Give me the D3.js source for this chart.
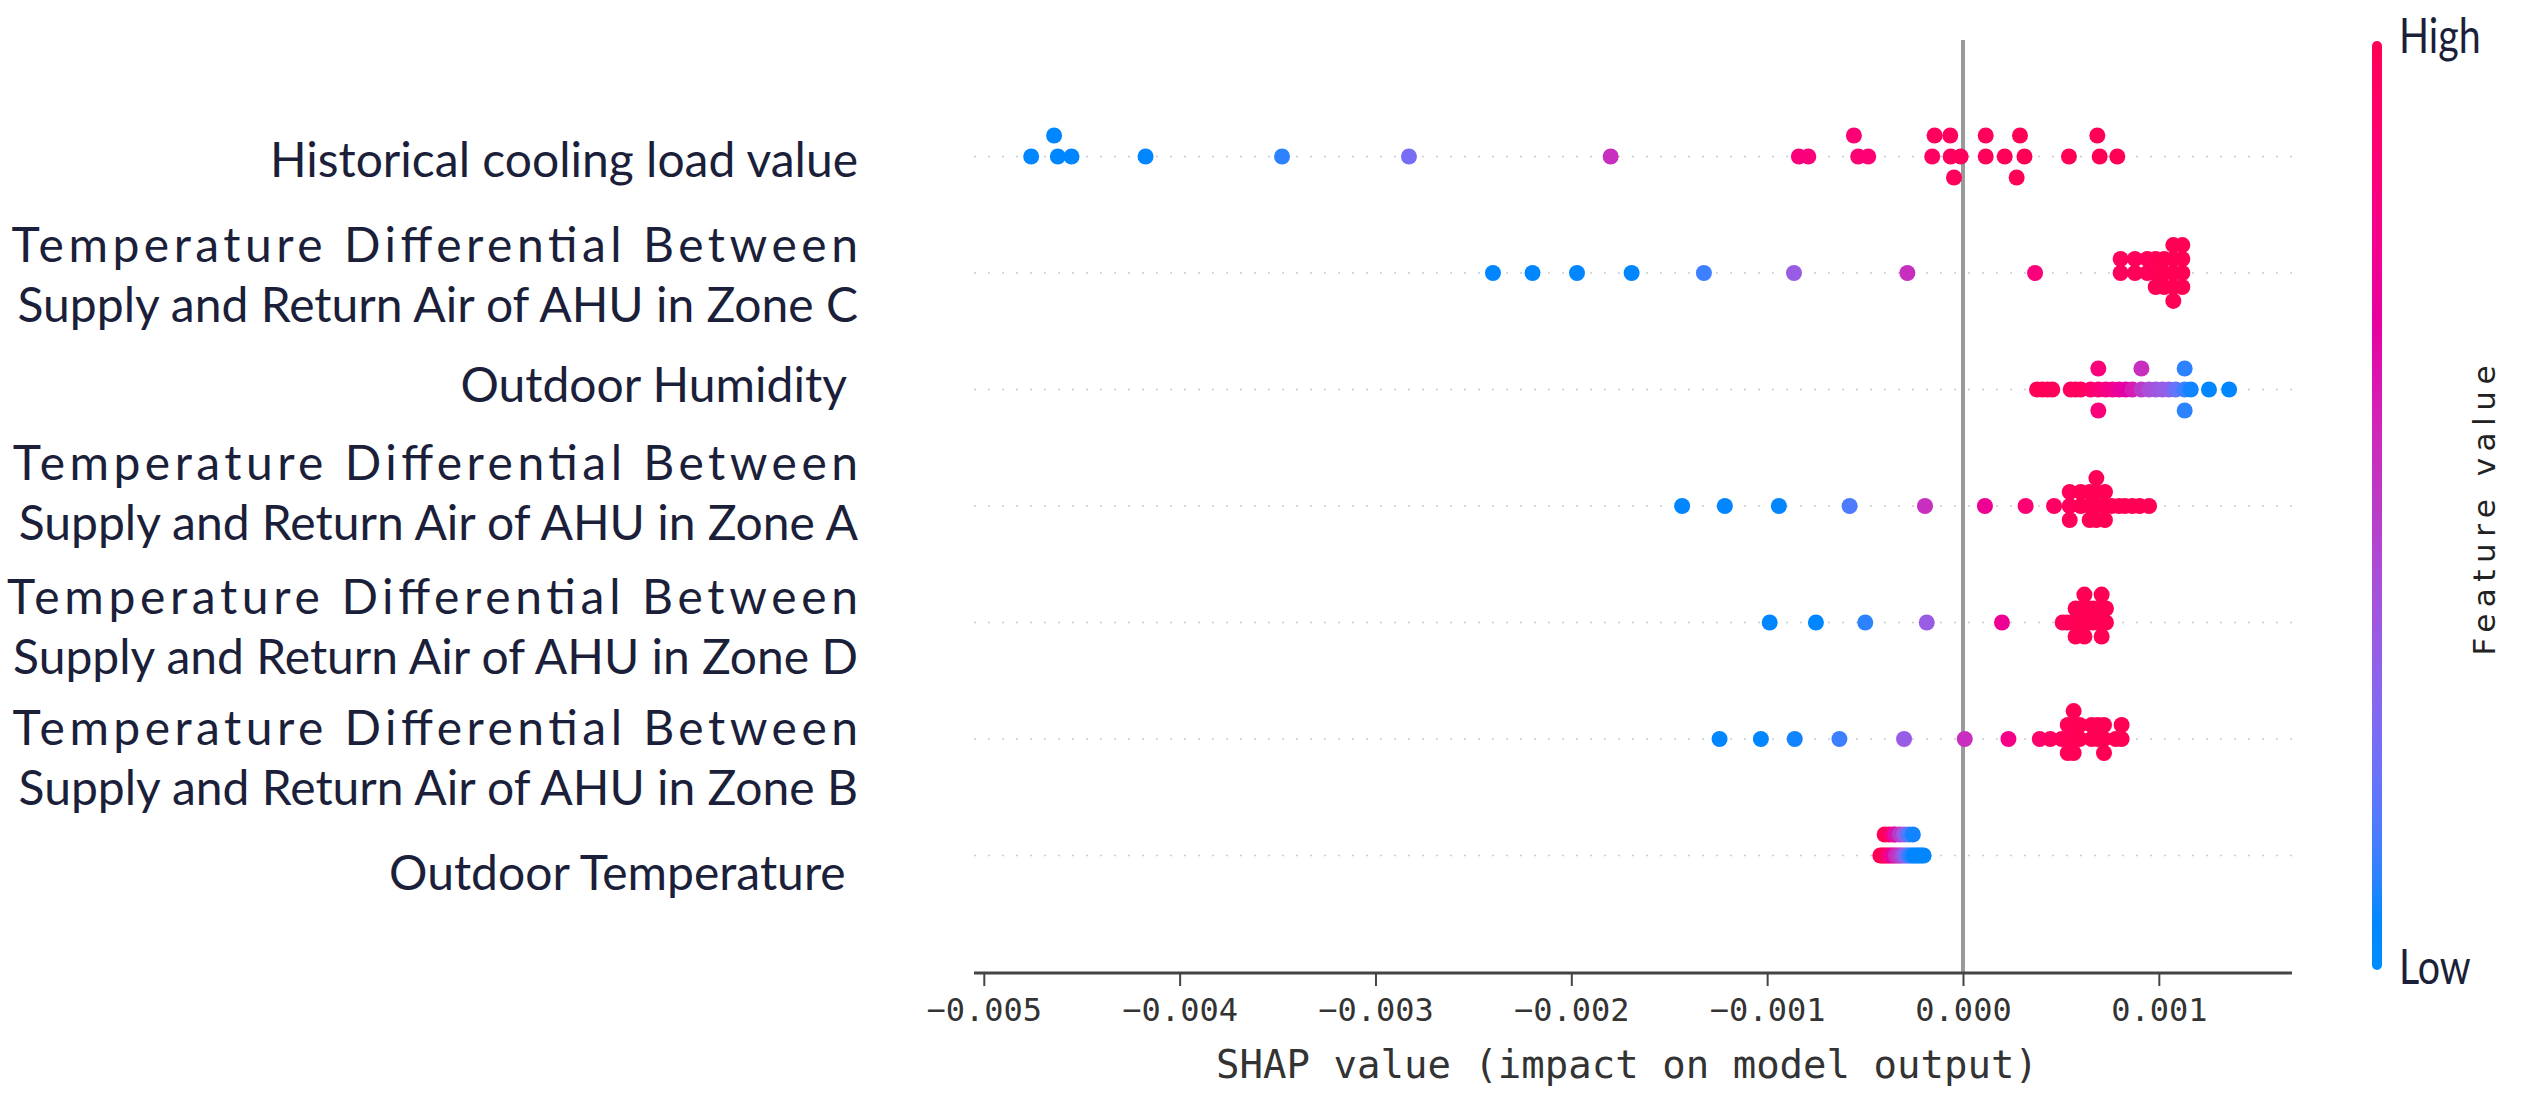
<!DOCTYPE html>
<html>
<head>
<meta charset="utf-8">
<script src="https://cdn.jsdelivr.net/npm/d3@7"></script>
<style>
  body { margin: 0; background: #fff; }
  svg { display: block; }
  .lab { font-family: Lato, "Open Sans", sans-serif; font-size: 48px; fill: #1c1f3a; white-space: pre; }
  .mono { font-family: "DejaVu Sans Mono", "Liberation Mono", monospace; fill: #333; }
</style>
</head>
<body>
<div id="chart"></div>
<script>
// Feature names, top row first (two-line names are split by hand like the original)
const features = [
  ["Historical cooling load value"],
  ["Temperature Differential Between", "Supply and Return Air of AHU in Zone C"],
  ["Outdoor Humidity "],
  ["Temperature Differential Between", "Supply and Return Air of AHU in Zone A"],
  ["Temperature Differential Between", "Supply and Return Air of AHU in Zone D"],
  ["Temperature Differential Between", "Supply and Return Air of AHU in Zone B"],
  ["Outdoor Temperature "]
];

// samples: [SHAP value, normalised feature value (0 = low, 1 = high)]
const histLoad = [
  [-0.004758, 0.05], [-0.004622, 0.05], [-0.004641, 0.05], [-0.004552, 0.05],
  [-0.004174, 0.06], [-0.003477, 0.10], [-0.002829, 0.25], [-0.001799, 0.55],
  [-0.000838, 0.85], [-0.000790, 0.85], [-0.000535, 0.88], [-0.000557, 0.88],
  [-0.000484, 0.88], [-0.000157, 0.95], [-0.000145, 0.96], [-0.000063, 0.97],
  [-0.000065, 0.97], [-0.000046, 0.97], [-0.000012, 0.98], [0.000116, 0.98],
  [0.000116, 0.98], [0.000213, 0.98], [0.000314, 0.99], [0.000291, 0.99],
  [0.000274, 0.99], [0.000541, 1], [0.000698, 1], [0.000686, 1], [0.000788, 1]
];
const zoneC = [
  [-0.002400, 0.05], [-0.002198, 0.05], [-0.001971, 0.05], [-0.001692, 0.06],
  [-0.001323, 0.12], [-0.000863, 0.35], [-0.000284, 0.55], [0.000368, 0.85],
  [0.000805, 0.97], [0.000805, 0.97], [0.000878, 0.98], [0.000878, 0.98],
  [0.000941, 0.98], [0.000941, 0.98], [0.000984, 0.99], [0.000984, 0.99],
  [0.000984, 0.99], [0.001027, 1], [0.001027, 1], [0.001027, 1],
  [0.001074, 1], [0.001074, 1], [0.001074, 1], [0.001074, 1], [0.001074, 1],
  [0.001120, 1], [0.001120, 1], [0.001120, 1], [0.001120, 1]
];
const humidity = [
  [0.000378, 1], [0.000405, 1], [0.000432, 1], [0.000456, 0.98],
  [0.000550, 0.97], [0.000575, 0.97], [0.000601, 0.96], [0.000652, 0.92],
  [0.000691, 0.88], [0.000691, 0.85], [0.000691, 0.85], [0.000729, 0.82],
  [0.000763, 0.78], [0.000797, 0.72], [0.000831, 0.68], [0.000865, 0.62],
  [0.000911, 0.50], [0.000911, 0.55], [0.000950, 0.42], [0.000984, 0.38],
  [0.001018, 0.35], [0.001052, 0.32], [0.001086, 0.20], [0.001132, 0.12],
  [0.001132, 0.10], [0.001132, 0.10], [0.001163, 0.08], [0.001256, 0.06],
  [0.001359, 0.05]
];
const zoneA = [
  [-0.001434, 0.05], [-0.001216, 0.05], [-0.000940, 0.06], [-0.000579, 0.15],
  [-0.000194, 0.55], [0.000112, 0.75], [0.000320, 0.88], [0.000465, 0.95],
  [0.000545, 0.98], [0.000545, 0.98], [0.000545, 0.98], [0.000601, 0.99],
  [0.000601, 0.99], [0.000647, 1], [0.000647, 1], [0.000647, 1],
  [0.000681, 1], [0.000681, 1], [0.000681, 1], [0.000681, 1],
  [0.000725, 1], [0.000725, 1], [0.000725, 1], [0.000759, 1],
  [0.000797, 1], [0.000827, 1], [0.000865, 1], [0.000902, 1], [0.000950, 1]
];
const zoneD = [
  [-0.000987, 0.05], [-0.000751, 0.06], [-0.000499, 0.10], [-0.000185, 0.35],
  [0.000199, 0.75], [0.000509, 0.97], [0.000531, 0.98], [0.000553, 0.98],
  [0.000575, 0.99], [0.000575, 0.99], [0.000575, 0.99], [0.000598, 1],
  [0.000598, 1], [0.000620, 1], [0.000620, 1], [0.000620, 1], [0.000620, 1],
  [0.000642, 1], [0.000642, 1], [0.000664, 1], [0.000664, 1],
  [0.000686, 1], [0.000686, 1], [0.000708, 1], [0.000708, 1],
  [0.000708, 1], [0.000708, 1], [0.000730, 1], [0.000730, 1]
];
const zoneB = [
  [-0.001243, 0.05], [-0.001032, 0.06], [-0.000859, 0.08], [-0.000631, 0.12],
  [-0.000301, 0.35], [0.000009, 0.55], [0.000232, 0.80], [0.000392, 0.92],
  [0.000446, 0.95], [0.000504, 0.97], [0.000535, 0.98], [0.000535, 0.98],
  [0.000535, 0.98], [0.000565, 1], [0.000565, 1], [0.000565, 1], [0.000565, 1],
  [0.000596, 1], [0.000596, 1], [0.000657, 1], [0.000657, 1],
  [0.000688, 1], [0.000688, 1], [0.000720, 1], [0.000720, 1], [0.000720, 1],
  [0.000780, 1], [0.000810, 1], [0.000810, 1]
];
const outdoorTemp = [
  [-0.000422, 1], [-0.000411, 1], [-0.000400, 0.98], [-0.000389, 0.95],
  [-0.000378, 0.88], [-0.000367, 0.80], [-0.000356, 0.70], [-0.000345, 0.60],
  [-0.000334, 0.55], [-0.000323, 0.50], [-0.000312, 0.45], [-0.000301, 0.35],
  [-0.000289, 0.25], [-0.000278, 0.15], [-0.000267, 0.10], [-0.000256, 0.08],
  [-0.000245, 0.07], [-0.000234, 0.06], [-0.000223, 0.05], [-0.000212, 0.05],
  [-0.000201, 0.05],
  [-0.000400, 1], [-0.000378, 0.95], [-0.000356, 0.80], [-0.000345, 0.65],
  [-0.000323, 0.50], [-0.000301, 0.35], [-0.000278, 0.15], [-0.000256, 0.08]
];
const samples = [histLoad, zoneC, humidity, zoneA, zoneD, zoneB, outdoorTemp];

const xTicks = [-0.005, -0.004, -0.003, -0.002, -0.001, 0, 0.001];
const xDomain = [-0.00505, 0.00168];

const W = 2535, H = 1113;
const plotLeft = 974, plotRight = 2292, plotTop = 40, plotBottom = 972;
const labelX = 858;
const labelNudge = [4, 2, -4, -13, 5, 19, 18];
const nRows = features.length;

const svg = d3.select("#chart").append("svg")
  .attr("width", W)
  .attr("height", H);

const x = d3.scaleLinear().domain(xDomain).range([plotLeft, plotRight]);
const y = d3.scaleLinear().domain([-1, nRows]).range([plotBottom, plotTop]);

// shap's red_blue map, built in LCh like the python version (mid lightness lifted a bit)
function redBlue(t) {
  t = Math.max(0, Math.min(1, t));
  const h = 266.93 + t * (380.32 - 266.93);
  const c = 70 + t * 20;
  const lMid = 49;
  const l = t < 0.5 ? 56 + (lMid - 56) * t * 2 : lMid + (55 - lMid) * (t - 0.5) * 2;
  return d3.hcl(h, c, l).formatHex();
}

// beeswarm offsets, same binning as shap.summary_plot
function swarm(points) {
  const vals = points.map(p => p[0]);
  const lo = d3.min(vals), hi = d3.max(vals);
  const nbins = 100;
  const quant = vals.map(v => Math.round(nbins * (v - lo) / (hi - lo + 1e-8)));
  const order = d3.range(vals.length).sort((a, b) => quant[a] - quant[b] || a - b);
  const ys = new Array(vals.length).fill(0);
  let layer = 0, last = -1;
  order.forEach(i => {
    if (quant[i] !== last) layer = 0;
    ys[i] = Math.ceil(layer / 2) * ((layer % 2) * 2 - 1);
    layer++;
    last = quant[i];
  });
  const k = 0.9 * 0.4 / (d3.max(ys) + 1);
  return ys.map(v => v * k);
}

// dotted row guides
svg.append("g").selectAll("line")
  .data(d3.range(nRows))
  .join("line")
  .attr("x1", plotLeft).attr("x2", plotRight)
  .attr("y1", i => y(nRows - 1 - i)).attr("y2", i => y(nRows - 1 - i))
  .attr("stroke", "#cccccc")
  .attr("stroke-width", 1.5)
  .attr("stroke-dasharray", "2 12");

// zero line
svg.append("line")
  .attr("x1", x(0)).attr("x2", x(0))
  .attr("y1", plotTop).attr("y2", plotBottom)
  .attr("stroke", "#9a9a9a")
  .attr("stroke-width", 4);

// points
samples.forEach((pts, i) => {
  const offs = swarm(pts);
  const row = nRows - 1 - i;
  svg.append("g").selectAll("circle")
    .data(pts)
    .join("circle")
    .attr("cx", d => x(d[0]))
    .attr("cy", (d, j) => y(row + offs[j]))
    .attr("r", 8)
    .attr("fill", d => redBlue(d[1]));
});

// x axis
const fmt = d3.format(".3f");
const xAxis = svg.append("g")
  .attr("transform", `translate(0,${plotBottom + 1})`)
  .call(d3.axisBottom(x).tickValues(xTicks).tickFormat(fmt).tickSize(13).tickPadding(12));
xAxis.select(".domain")
  .attr("d", `M${plotLeft},0H${plotRight}`)
  .attr("stroke", "#444")
  .attr("stroke-width", 3);
xAxis.selectAll(".tick line").attr("stroke", "#444").attr("stroke-width", 2);
xAxis.selectAll(".tick text")
  .attr("class", "mono")
  .attr("font-size", 32)
  .attr("fill", "#333");

svg.append("text")
  .attr("class", "mono")
  .attr("x", (plotLeft + plotRight) / 2 - 6)
  .attr("y", 1078)
  .attr("text-anchor", "middle")
  .attr("font-size", 39)
  .attr("fill", "#222")
  .text("SHAP value (impact on model output)");

// feature labels
features.forEach((lines, i) => {
  const cy = y(nRows - 1 - i) + labelNudge[i];
  const g = svg.append("g");
  if (lines.length === 1) {
    g.append("text").attr("class", "lab")
      .attr("x", labelX).attr("y", cy + 16.5)
      .attr("text-anchor", "end")
      .text(lines[0]);
  } else {
    const t2 = g.append("text").attr("class", "lab")
      .attr("x", labelX).attr("y", cy + 46.5)
      .attr("text-anchor", "end")
      .text(lines[1]);
    const w2 = t2.node().getComputedTextLength();
    g.append("text").attr("class", "lab")
      .attr("x", labelX).attr("y", cy - 13.5)
      .attr("text-anchor", "end")
      .attr("textLength", w2 + 6)
      .attr("lengthAdjust", "spacing")
      .text(lines[0]);
  }
});

// colour bar
const defs = svg.append("defs");
const grad = defs.append("linearGradient")
  .attr("id", "cbar")
  .attr("x1", 0).attr("y1", 1).attr("x2", 0).attr("y2", 0);
grad.selectAll("stop")
  .data(d3.range(0, 1.0001, 0.05))
  .join("stop")
  .attr("offset", d => d)
  .attr("stop-color", d => redBlue(d));

const cbX = 2372, cbW = 10, cbTop = 41, cbBottom = 970;
svg.append("rect")
  .attr("x", cbX).attr("y", cbTop)
  .attr("width", cbW).attr("height", cbBottom - cbTop)
  .attr("rx", 5)
  .attr("fill", "url(#cbar)");

// High / Low, slightly condensed like the original face
[["High", 53], ["Low", 984]].forEach(([txt, yy]) => {
  const t = svg.append("text").attr("class", "lab")
    .attr("x", 2399).attr("y", yy)
    .attr("font-size", 34)
    .text(txt);
  t.attr("textLength", t.node().getComputedTextLength() * 0.82)
    .attr("lengthAdjust", "spacingAndGlyphs");
});

svg.append("text")
  .attr("transform", `translate(2495,${(cbTop + cbBottom) / 2 + 5}) rotate(-90)`)
  .attr("text-anchor", "middle")
  .attr("font-family", "DejaVu Sans, sans-serif")
  .attr("font-size", 31)
  .attr("fill", "#222")
  .attr("textLength", 290)
  .attr("lengthAdjust", "spacing")
  .text("Feature value");
</script>
</body>
</html>
